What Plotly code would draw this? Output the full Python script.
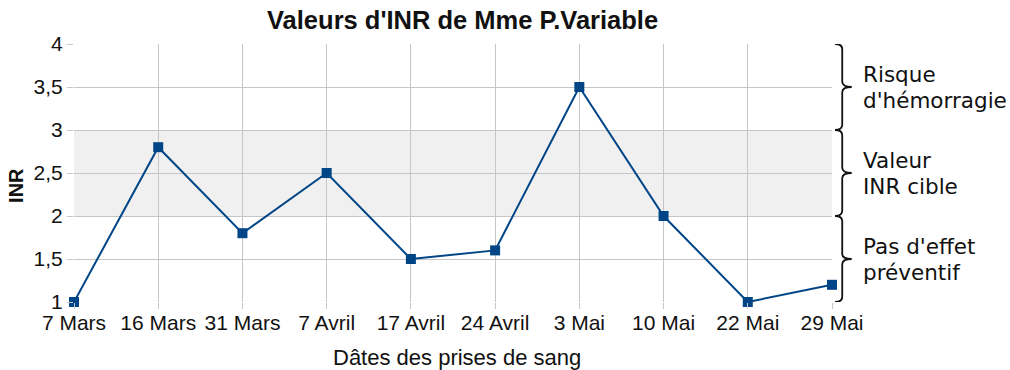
import plotly.graph_objects as go

# Blood-test dates and measured INR values
dates = ["7 Mars", "16 Mars", "31 Mars", "7 Avril", "17 Avril", "24 Avril",
         "3 Mai", "10 Mai", "22 Mai", "29 Mai"]
inr = [1.0, 2.8, 1.8, 2.5, 1.5, 1.6, 3.5, 2.0, 1.0, 1.2]

# Zones of the INR scale: (low, high, two-line label)
zone_low = [3.0, 2.0, 1.0]
zone_high = [4.0, 3.0, 2.0]
zone_labels = [("Risque", "d'hémorragie"), ("Valeur", "INR cible"), ("Pas d'effet", "préventif")]
target_low, target_high = 2.0, 3.0

LINE = "#004586"
GRID = "#c6c6c6"
TXT = "#111111"
SANS = "Liberation Sans, Arial, sans-serif"
AXFONT = dict(family=SANS, size=21, color=TXT)

fig = go.Figure()
fig.add_trace(go.Scatter(
    x=dates, y=inr, mode="lines+markers",
    line=dict(color=LINE, width=2),
    marker=dict(symbol="square", size=10, color=LINE),
    cliponaxis=False, showlegend=False,
))

# Target band shading
fig.add_shape(type="rect", xref="paper", yref="y", x0=0, x1=1,
              y0=target_low, y1=target_high, fillcolor="#f0f0f0",
              line=dict(width=0), layer="below")


def brace_path(x0, x1, x2, ytop, ybot):
    ymid = (ytop + ybot) / 2
    d = (ytop - ybot) * 0.06
    return (f"M {x0},{ytop} Q {x1},{ytop} {x1},{ytop - d} "
            f"L {x1},{ymid + d} Q {x1},{ymid} {x2},{ymid} "
            f"Q {x1},{ymid} {x1},{ymid - d} "
            f"L {x1},{ybot + d} Q {x1},{ybot} {x0},{ybot}")


for lo, hi, (l1, l2) in zip(zone_low, zone_high, zone_labels):
    fig.add_shape(type="path", xref="paper", yref="y",
                  path=brace_path(1.004, 1.0135, 1.026, hi, lo),
                  line=dict(color=TXT, width=1.8))
    for txt, shift in ((l1, 13), (l2, -13)):
        fig.add_annotation(xref="paper", yref="y", x=1.038, y=(lo + hi) / 2,
                           yshift=shift, text=txt, showarrow=False,
                           xanchor="left", yanchor="middle",
                           font=dict(family="DejaVu Sans, sans-serif", size=21.5, color=TXT))

# Title and axis titles
fig.add_annotation(xref="paper", yref="paper", x=0.512, y=1.0, yshift=24,
                   text="<b>Valeurs d'INR de Mme P.Variable</b>", showarrow=False,
                   xanchor="center", yanchor="middle",
                   font=dict(family=SANS, size=25.5, color=TXT))
fig.add_annotation(xref="paper", yref="paper", x=0.505, y=0.0, yshift=-55,
                   text="Dâtes des prises de sang", showarrow=False,
                   xanchor="center", yanchor="middle",
                   font=dict(family=SANS, size=22, color=TXT))
fig.add_annotation(xref="paper", yref="paper", x=0.0, xshift=-58, y=0.45,
                   text="<b>INR</b>", showarrow=False, textangle=-90,
                   xanchor="center", yanchor="middle",
                   font=dict(family=SANS, size=20, color=TXT))

fig.update_layout(
    width=1010, height=370,
    margin=dict(l=74, r=178, t=44, b=68),
    paper_bgcolor="white", plot_bgcolor="rgba(0,0,0,0)",
    separators=", ",
    xaxis=dict(
        type="category", range=[0, len(dates) - 1], automargin=False,
        showgrid=True, gridcolor=GRID, gridwidth=1,
        ticks="outside", ticklen=6, tickcolor=GRID,
        ticklabelstandoff=-4,
        tickfont=AXFONT, zeroline=False, showline=False,
    ),
    yaxis=dict(
        range=[1, 4], dtick=0.5, tick0=1, automargin=False,
        showgrid=True, gridcolor=GRID, gridwidth=1,
        ticks="outside", ticklen=6, tickcolor=GRID,
        tickfont=AXFONT, zeroline=False, showline=False,
    ),
)

fig.write_html("out.html")
